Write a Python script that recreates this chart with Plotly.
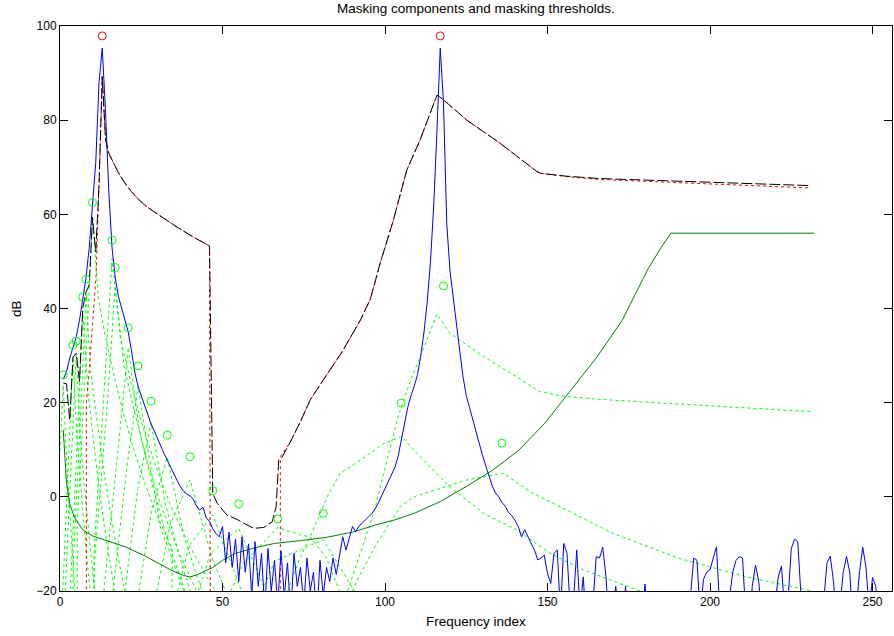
import plotly.graph_objects as go

# ---------------- data ----------------
# power spectrum (blue), frequency indices 1..256
spectrum_db = [
    25, 26.5, 29.5, 32, 34, 37.5, 42, 46.5, 53, 62,
    71, 88, 95.3, 82, 65, 53, 46.5, 42.5, 39.8, 37.5,
    35, 31, 26.5, 23.5, 21.5, 19.5, 17.5, 15.5, 14, 12.3,
    10.8, 9.2, 7.8, 6.3, 4.8, 3.5, 2.2, 1.2, 0.6, 0.2,
    -0.5, -2, -2.8, -2.2, -4.5, -5.2, -6.8, -7.8, -8.5, -6.3,
    -14, -7.5, -15, -9, -18, -8.5, -16, -10, -21, -9.5,
    -19, -12, -24, -11, -20, -13.5, -23, -11.5, -21, -14,
    -25, -12, -19, -15, -23, -13, -20, -16, -26, -13.5,
    -21, -15, -18, -13, -16.5, -12.7, -8.5, -11.3, -9, -6.3,
    -7.4, -6.2, -5.6, -5, -4.2, -3.5, -2.5, -1.2, 0.3, 1.8,
    3.2, 4.5, 6.2, 8.5, 12, 15.5, 19, 21.5, 23.5, 26,
    30, 35, 41.5, 50, 62, 78, 95.3, 83.6, 58, 48,
    42, 36.5, 31, 25.5, 21.5, 19, 16.5, 13.5, 11.3, 8.8,
    6.6, 4.5, 2.3, 0.8, 0, -1.2, -2, -3.3, -4, -5,
    -6.3, -8.5, -7, -8.5, -9.9, -11.3, -13.4, -13, -12.4, -16.2,
    -18.4, -12, -11.3, -25, -9.9, -12, -24, -22, -11.3, -24,
    -17, -28, -32, -23, -12.7, -13, -10.7, -17, -29, -24,
    -19, -26, -31, -19, -27, -33, -29, -35, -26, -18.5,
    -28, -34, -30, -37, -31, -27, -33, -38, -30, -35,
    -28, -33, -26, -21, -13, -13.5, -25, -17.5, -16, -15.5,
    -13, -10.6, -24, -31, -27, -22, -16, -13.5, -12.7, -13,
    -25, -29, -19, -14.5, -18, -26, -33, -29, -34, -23,
    -17, -14.7, -25, -22, -11, -9, -9.5, -21, -30, -35,
    -28, -33, -37, -30, -21, -14, -12.6, -18, -27, -23,
    -16, -12.7, -16, -28, -24, -16, -10.7, -15, -24, -17.1,
    -19, -28, -33, -27, -31, -35,
]
spectrum_idx = list(range(1, len(spectrum_db) + 1))

# tonal maskers (red circles)
tonal_idx = [13, 117]
tonal_db = [97.9, 97.9]

# non-tonal maskers (green circles)
nontonal_idx = [1, 4, 5, 7, 8, 10, 16, 17, 21, 24, 28, 33, 40, 47, 55, 67, 81, 105, 118, 136]
nontonal_db = [25.9, 32.2, 33.1, 42.4, 46.2, 62.5, 54.5, 48.7, 35.9, 27.8,
               20.3, 13.1, 8.5, 1.3, -1.5, -4.7, -3.5, 19.9, 44.8, 11.4]

# individual masking thresholds of the non-tonal maskers (green dotted)
nt_thr_idx = [
    [0, 1, 2.1, 3.3, 4.4, 5.7],
    [0.85, 2.9, 4, 5.2, 6.6, 8.1, 9.8],
    [1.6, 3.7, 5, 6.2, 7.6, 9.3, 11.1],
    [3.3, 3.3, 5.6, 7, 8.6, 10.3, 12.1, 14.3, 16.7, 19.4],
    [4.0, 4.0, 6.4, 8, 9.5, 11.4, 13.4, 15.7, 18.3, 21.3],
    [5.3, 5.3, 7.9, 10, 11.8, 13.8, 16.2, 18.9, 21.9, 25.4, 29.5, 34.5, 34.5],
    [10.5, 10.5, 13.6, 16, 18.6, 21.6, 25, 29.1, 33.9, 39.8, 47, 56],
    [10.5, 10.5, 14.5, 17, 19.7, 22.9, 26.5, 30.8, 36.1, 42.4],
    [13.5, 17.9, 21, 24.3, 28.2, 32.8, 38.5],
    [16.3, 20.6, 24, 27.8, 30.8, 37.6, 44.3],
    [20, 23.9, 28, 32.3, 37.8, 44.6],
    [24.3, 28.2, 33, 38.2, 45.4],
    [29.8, 33.9, 40, 47, 56.3],
    [36.2, 39.8, 47, 56.3],
    [42.6, 46.2, 55, 63.4],
    [52.5, 56.3, 67, 74, 77, 82, 86],
    [62.3, 66, 81, 90.6],
    [70, 74, 77, 82.2, 86.2, 92.4, 99.6, 105.2, 109.8, 120, 130.3, 140.5, 150.8, 161, 178.4],
    [88.5, 96.5, 104, 108, 111, 116, 120, 130.3, 140.5, 147.7, 155.9, 166.1, 190.7, 231.1],
    [90, 91.4, 97.5, 104.7, 108.8, 114.9, 125.2, 136.4, 145.6, 155.9, 166.1, 170.2, 190.7, 211.2, 231.6],
]
nt_thr_db = [
    [9.8, 23.7, 6.7, -6.4, -19.5, -32.6],
    [-20, 10.7, 29.6, 12.6, 0.4, -11.8, -24],
    [-20, 11.1, 30.3, 13.3, 1.3, -10.7, -22.7],
    [-40, -17.6, 16.4, 39.4, 22.4, 11.8, 1.2, -9.4, -20, -30.6],
    [-40, -15.4, 18.6, 43.1, 26.1, 16, 5.9, -4.2, -14.3, -24.4],
    [-40, -5.8, 28.2, 59.2, 42.2, 34.6, 27, 19.4, 11.8, 4.2, -3.4, -11, -40],
    [-40, -11.2, 22.8, 50.6, 33.6, 24.8, 16, 7.2, -1.6, -10.4, -19.2, -28],
    [-40, -14.7, 19.3, 44.8, 27.8, 18.1, 8.4, -1.3, -11, -20.7],
    [-20, 11.3, 31.7, 14.7, 3.1, -8.5, -20.1],
    [-20, 6.4, 23.5, 6.5, -6.3, -19.1, -31.9],
    [-20, 1.7, 15.8, -1.2, -15.2, -29.2],
    [-20, -2.8, 8.4, -8.6, -23.6],
    [-20, -5.8, 3.6, -13.4, -29.1],
    [-20, -10.3, -3.8, -20.8],
    [-20, -12.1, -6.7, -20],
    [-20, -14.2, -6.5, -8.1, -8.5, -13, -20],
    [-20, -13.7, -9.1, -20],
    [-20, -12.7, -8.5, 0, 5, 7.8, 11.3, 12.8, 9.2, 2.1, -3.5, -7, -12, -15.5, -20],
    [-20, -3.5, 17, 25, 30, 38.8, 34.7, 29.8, 25.5, 22.3, 21.3, 20.7, 19.7, 18.1],
    [-20, -17.7, -9.9, -2.1, 0, 1.4, 3.6, 5, 0.7, -2.8, -6.3, -7.8, -13.1, -17, -20],
]

# individual masking thresholds of the tonal maskers (red dotted)
t_thr_idx = [
    [8.1, 8.1, 9, 10, 11.1, 12, 13, 14, 15, 16, 17, 18, 20, 22, 24, 26, 28, 30,
     32, 34, 36, 38, 40, 42, 44, 46, 46.3],
    [67.8, 67.8, 70.9, 74, 77, 80.5, 86.8, 92.4, 95.5, 98.5, 102.6, 106.7, 110.8,
     113.9, 116, 117.5, 125.2, 135.4, 146.7, 148, 155.9, 166.1, 190, 210, 231],
]
t_thr_db = [
    [-40, 20, 27, 37, 47, 66, 89.3, 76, 73, 71.5, 70, 68.8, 66.6, 64.8, 63.3, 62,
     61, 60, 59.1, 58.2, 57.3, 56.4, 55.6, 54.8, 54, 53.3, -40],
    [-40, 8.5, 11.7, 16, 20.6, 24.3, 30.8, 37.5, 42, 49.6, 58.8, 69.4, 75.8,
     81.5, 85.3, 84.6, 80, 75.1, 69.1, 68.7, 68, 67.4, 66.7, 66.1, 65.6],
]

# absolute threshold (dark green)
abs_thr_idx = [1, 2, 3, 4, 5, 7, 10, 14, 20, 26, 30, 34, 38, 40, 42, 44, 47, 50,
               54, 60, 66, 74, 82, 90, 97, 103, 109, 117, 125, 133, 141, 149, 157,
               165, 173, 181, 185, 188, 232]
abs_thr_db = [14.2, 3, -1.5, -3.5, -5, -7, -8.3, -9.2, -10.6, -12.5, -14, -15.5,
              -16.7, -17, -16.6, -16, -15, -13.5, -12, -10.8, -9.9, -9.3, -8.6,
              -7.5, -6, -4.9, -3.5, -1, 2.2, 5.6, 9.8, 15.5, 22.5, 29.5, 37.5,
              48.5, 53, 56, 56]

# global masking threshold (black dashed)
glob_thr_idx = [1, 2, 3, 4, 5, 6, 7, 8, 9, 10, 11, 12, 13, 14, 15, 16, 17, 18, 20,
                22, 24, 26, 28, 30, 32, 34, 36, 38, 40, 42, 44, 46, 47, 48.4, 51.4,
                54.5, 56.5, 59.6, 62.7, 65.3, 66.5, 67.3, 68.3, 70.9, 74, 77, 80.5,
                86.8, 92.4, 95.5, 98.5, 102.6, 106.7, 110.8, 113.9, 116, 117.5,
                125.2, 135.4, 146.7, 148, 155.9, 166.1, 190, 210, 231]
glob_thr_db = [24.2, 24, 16.3, 29.7, 30.5, 24.5, 40, 43.5, 45, 59.4, 52, 66, 89.3,
               76, 73, 71.5, 70, 68.8, 66.6, 64.8, 63.3, 62, 61, 60, 59.1, 58.2,
               57.3, 56.4, 55.6, 54.8, 54, 53.3, 0.7, -1.4, -3.9, -4.8, -5.6, -6.7,
               -6.5, -5.3, -2.1, 7.8, 8.4, 11.7, 16, 20.6, 24.3, 30.8, 37.5, 42,
               49.6, 58.8, 69.4, 75.8, 81.5, 85.3, 84.6, 80, 75.1, 69.1, 68.7,
               68.1, 67.6, 67, 66.6, 66.1]

x_ticks = [0, 50, 100, 150, 200, 250]
y_ticks = [-20, 0, 20, 40, 60, 80, 100]

# ---------------- figure ----------------
FONT = "Liberation Sans"
fig = go.Figure()

for xs, ys in zip(nt_thr_idx, nt_thr_db):
    fig.add_trace(go.Scatter(x=xs, y=ys, mode="lines",
                             line=dict(color="#00ff00", width=1, dash="3px,3px"),
                             hoverinfo="skip"))

for xs, ys in zip(t_thr_idx, t_thr_db):
    fig.add_trace(go.Scatter(x=xs, y=ys, mode="lines",
                             line=dict(color="#ff0000", width=1, dash="3px,3px"),
                             hoverinfo="skip"))

fig.add_trace(go.Scatter(x=abs_thr_idx, y=abs_thr_db, mode="lines",
                         line=dict(color="#008000", width=1)))

fig.add_trace(go.Scatter(x=spectrum_idx, y=spectrum_db, mode="lines",
                         line=dict(color="#0000ff", width=1)))

fig.add_trace(go.Scatter(x=glob_thr_idx, y=glob_thr_db, mode="lines",
                         line=dict(color="#000000", width=1, dash="11px,3px")))

fig.add_trace(go.Scatter(x=tonal_idx, y=tonal_db, mode="markers",
                         marker=dict(symbol="circle-open", size=8, color="#ff0000",
                                     line=dict(width=1))))
fig.add_trace(go.Scatter(x=nontonal_idx, y=nontonal_db, mode="markers",
                         marker=dict(symbol="circle-open", size=8, color="#00ff00",
                                     line=dict(width=1))))

axis_common = dict(
    showgrid=False, zeroline=False, showline=True, linecolor="#000000",
    linewidth=1, mirror="ticks", ticks="inside", ticklen=8, tickcolor="#000000",
    tickfont=dict(family=FONT, size=12, color="#000000"),
)

fig.update_layout(
    width=894, height=636,
    margin=dict(l=60, r=2, t=26, b=45),
    paper_bgcolor="white", plot_bgcolor="white",
    showlegend=False,
    xaxis=dict(range=[0, 256], tickvals=x_ticks, **axis_common),
    yaxis=dict(range=[-20, 100], tickvals=y_ticks, **axis_common),
    annotations=[
        dict(text="Masking components and masking thresholds.", x=0.5, y=1,
             xref="paper", yref="paper", xanchor="center", yanchor="bottom",
             yshift=8, showarrow=False,
             font=dict(family=FONT, size=13.5, color="#000000")),
        dict(text="Frequency index", x=0.5, y=0, xref="paper", yref="paper",
             xanchor="center", yanchor="top", yshift=-21, showarrow=False,
             font=dict(family=FONT, size=13.5, color="#000000")),
        dict(text="dB", x=0, y=0.5, xref="paper", yref="paper", textangle=-90,
             xanchor="right", yanchor="middle", xshift=-34, showarrow=False,
             font=dict(family=FONT, size=13.5, color="#000000")),
    ],
)

fig.write_html("out.html")
